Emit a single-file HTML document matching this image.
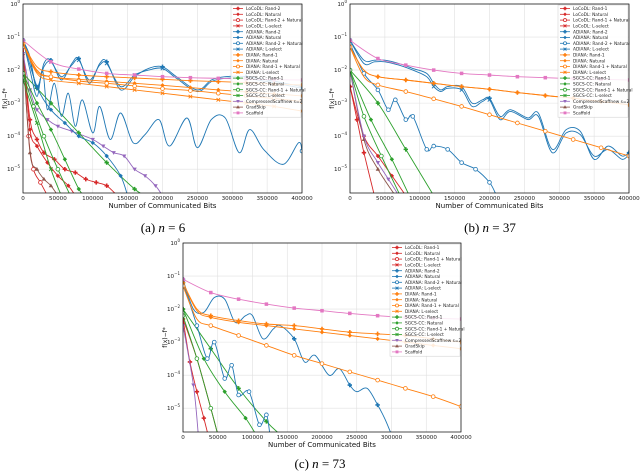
<!DOCTYPE html>
<html><head><meta charset="utf-8"><style>
html,body{margin:0;padding:0;background:#fff;}
svg{display:block;}
text{font-family:"DejaVu Sans","Liberation Sans",sans-serif;}
.cap{font-family:"Liberation Serif",serif;font-size:13px;}
</style></head><body>
<svg id="fig" width="640" height="473" viewBox="0 0 640 473"></svg>
<script>
// x in thousands of bits, y as log10(f(x)-f*)
const xTicks = [0,50000,100000,150000,200000,250000,300000,350000,400000];
const yTicks = [0,-1,-2,-3,-4,-5];
const labelsA = ["LoCoDL: Rand-2","LoCoDL: Natural","LoCoDL: Rand-2 + Natural","LoCoDL: L-select","ADIANA: Rand-2","ADIANA: Natural","ADIANA: Rand-2 + Natural","ADIANA: L-select","DIANA: Rand-1","DIANA: Natural","DIANA: Rand-1 + Natural","DIANA: L-select","SGCS-CC: Rand-1","SGCS-CC: Natural","SGCS-CC: Rand-1 + Natural","SGCS-CC: L-select","CompressedScaffnew s=2","GradSkip","Scaffold"];
const labelsB = labelsA.map((l,i)=>i<4?l.replace("Rand-2","Rand-1"):l);

// ---- panel (a) n=6
const aScaffoldX=[0,40,80,120,160,200,240,280,320,360,400];
const aScaffoldY=[-1.1,-1.75,-1.97,-2.1,-2.15,-2.2,-2.23,-2.25,-2.27,-2.29,-2.3];
const aDiana1X=[0,20,40,80,120,160,200,240,280,320,360,400];
const aDiana1Y=[-1.2,-1.9,-2.05,-2.15,-2.2,-2.24,-2.28,-2.32,-2.35,-2.38,-2.42,-2.45];
const aDiana2Y=[-1.2,-2.0,-2.2,-2.28,-2.34,-2.4,-2.46,-2.53,-2.6,-2.66,-2.72,-2.78];
const aDiana3Y=[-1.2,-2.05,-2.2,-2.33,-2.4,-2.48,-2.56,-2.62,-2.7,-2.78,-2.86,-2.95];
const aDiana4Y=[-1.2,-2.1,-2.3,-2.4,-2.5,-2.6,-2.7,-2.8,-2.9,-3.0,-3.1,-3.24];
const aAdiana1X=[0,10,20,30,40,55,70,80,95,110,120,140,160,180,200,220,250,270,290,320,350,400];
const aAdiana1Y=[-1.1,-1.6,-2.6,-1.8,-1.7,-2.3,-1.8,-1.65,-2.4,-1.8,-1.75,-2.6,-2.2,-1.95,-1.9,-2.2,-2.6,-2.3,-2.2,-2.2,-2.3,-2.5];
const aAdiana2Y=[-1.1,-1.7,-2.5,-1.9,-1.75,-2.2,-1.85,-1.7,-2.3,-1.85,-1.8,-2.5,-2.15,-2.0,-1.95,-2.25,-2.65,-2.35,-2.25,-2.25,-2.35,-2.55];
const aAdiana3X=[0,10,20,28,35,45,55,65,75,85,100,110,125,140,158,175,195,210,235,250,270,290,310,325,345,373,395,400];
const aAdiana3Y=[-1.1,-2.0,-2.8,-2.0,-3.2,-2.4,-3.4,-2.7,-3.7,-2.9,-3.9,-3.1,-4.1,-3.3,-4.2,-3.95,-3.5,-4.3,-3.45,-4.35,-3.5,-3.45,-4.5,-3.8,-4.4,-4.85,-4.2,-4.45];
const aAdiana4X=[0,20,40,60,80,100,120,140,150];
const aAdiana4Y=[-1.1,-2.5,-3.2,-3.6,-4.0,-4.2,-4.6,-5.2,-5.8];
const aSg1X=[0,20,40,80,120,160,175];const aSg1Y=[-2.1,-2.55,-3.0,-3.9,-4.8,-5.6,-5.8];
const aSg2X=[0,20,40,60,80,88];const aSg2Y=[-2.1,-3.0,-3.8,-4.7,-5.6,-5.8];
const aSg3X=[0,15,30,50,68];const aSg3Y=[-2.1,-3.1,-4.0,-5.0,-5.8];
const aSg4X=[0,20,40,55];const aSg4Y=[-2.3,-3.6,-5.0,-5.8];
const aCsX=[0,10,20,35,50,70,100,115,130,145,160,175,190,200];
const aCsY=[-1.5,-2.6,-3.2,-3.5,-3.7,-3.85,-4.1,-4.3,-4.5,-4.6,-5.0,-5.2,-5.5,-5.8];
const aGsX=[0,10,20,30,40,50];const aGsY=[-1.5,-4.5,-5.0,-5.3,-5.5,-5.8];
const aLc1X=[0,10,20,30,45,60,75,90,105,120,135];const aLc1Y=[-1.3,-3.5,-4.1,-4.5,-4.7,-5.0,-5.1,-5.3,-5.4,-5.5,-5.8];
const aLc2X=[0,10,20,35,50,65,75];const aLc2Y=[-1.3,-3.8,-4.3,-4.8,-5.2,-5.5,-5.8];
const aLc3X=[0,8,15,25,35];const aLc3Y=[-1.3,-4.0,-5.0,-5.4,-5.8];

// ---- panel (b) n=37
const bScaffoldX=[0,40,80,120,160,200,240,280,320,360,400];
const bScaffoldY=[-1.1,-1.65,-1.85,-2.0,-2.1,-2.15,-2.2,-2.23,-2.26,-2.28,-2.3];
const bDianaX=[0,20,40,80,120,160,200,240,280,320,360,400];
const bDiana1Y=[-1.3,-2.0,-2.2,-2.3,-2.4,-2.5,-2.58,-2.68,-2.77,-2.85,-2.95,-3.05];
const bDiana3Y=[-1.3,-2.2,-2.45,-2.65,-2.87,-3.1,-3.35,-3.6,-3.85,-4.1,-4.35,-4.6];
const bAdiana1X=[0,20,35,50,70,90,110,120,130,140,160,175,190,200,215,230,255,270,290,310,330,350,370,390,400];
const bAdiana1Y=[-1.1,-1.7,-1.7,-1.7,-1.8,-1.95,-2.1,-2.4,-2.6,-2.5,-2.5,-3.0,-2.9,-2.85,-3.4,-3.2,-3.45,-3.3,-4.4,-3.8,-3.85,-4.7,-4.3,-4.6,-4.5];
const bAdiana2Y=[-1.1,-1.8,-1.75,-1.75,-1.85,-2.0,-2.2,-2.5,-2.65,-2.55,-2.6,-3.1,-2.95,-2.9,-3.5,-3.25,-3.5,-3.4,-4.5,-3.9,-3.95,-4.6,-4.4,-4.7,-4.55];
const bAdiana3X=[0,20,40,55,65,80,90,110,120,140,160,180,200,210];
const bAdiana3Y=[-1.2,-2.1,-2.6,-3.2,-2.9,-3.5,-3.4,-4.4,-4.3,-4.4,-4.8,-5.0,-5.4,-5.8];
const bSg1X=[0,40,80,120];const bSg1Y=[-2.0,-3.0,-4.4,-5.8];
const bSg2X=[0,30,60,85];const bSg2Y=[-2.0,-3.5,-4.7,-5.8];
const bSg3X=[0,20,45,72];const bSg3Y=[-2.0,-3.4,-4.6,-5.8];
const bCsX=[0,20,40,55,70];const bCsY=[-2.0,-4.0,-4.8,-5.3,-5.8];
const bGsX=[0,20,40,65];const bGsY=[-2.0,-4.1,-5.0,-5.8];
const bLc1X=[0,10,20,35];const bLc1Y=[-2.5,-3.5,-4.5,-5.8];
const bLc2X=[0,20,40,60,80];const bLc2Y=[-2.5,-4.0,-4.6,-5.2,-5.8];

// ---- panel (c) n=73
const cScaffoldX=[0,40,80,120,160,200,240,280,320,360,400];
const cScaffoldY=[-1.1,-1.5,-1.7,-1.85,-1.97,-2.05,-2.13,-2.2,-2.25,-2.28,-2.3];
const cDianaX=[0,20,40,80,120,160,200,240,280,320,360,400];
const cDiana1Y=[-1.2,-2.0,-2.2,-2.35,-2.45,-2.5,-2.6,-2.7,-2.75,-2.8,-2.9,-3.0];
const cDiana2Y=[-1.2,-2.05,-2.25,-2.4,-2.5,-2.6,-2.7,-2.8,-2.9,-3.0,-3.1,-3.2];
const cDiana3Y=[-1.3,-2.3,-2.5,-2.8,-3.1,-3.4,-3.65,-3.9,-4.15,-4.4,-4.65,-4.95];
const cAdiana1X=[0,15,30,45,60,75,90,100,115,130,140,160,175,190,210,225,240,250,265,280,290,300];
const cAdiana1Y=[-1.1,-2.0,-2.1,-1.65,-1.7,-2.4,-2.2,-2.2,-2.9,-2.6,-2.5,-2.9,-3.6,-3.4,-4.0,-3.8,-4.3,-4.5,-4.4,-4.9,-5.3,-5.8];
const cAdiana2X=[0,20,35,45,60,70,80,95,110,120,125];
const cAdiana2Y=[-1.2,-2.5,-3.5,-3.0,-4.1,-3.7,-4.6,-4.5,-5.5,-5.2,-5.8];
const cSg1X=[0,40,80,120,140];const cSg1Y=[-2.0,-3.2,-4.4,-5.4,-5.8];
const cSg2X=[0,30,60,90,105];const cSg2Y=[-2.0,-3.5,-4.5,-5.3,-5.8];
const cSg3X=[0,20,40,50];const cSg3Y=[-2.2,-3.5,-5.0,-5.8];
const cLc1X=[0,10,20,30,36];const cLc1Y=[-2.3,-3.6,-4.5,-5.3,-5.8];
const cLc2X=[0,20,40,50];const cLc2Y=[-2.3,-3.5,-5.0,-5.8];
const cCsX=[0,15,22];const cCsY=[-2.5,-4.3,-5.8];

const RED="#d62728",BLUE="#1f77b4",ORANGE="#ff7f0e",GREEN="#2ca02c",PURPLE="#9467bd",BROWN="#8c564b",PINK="#e377c2";
const legendMarkers=[[RED,"P"],[RED,"D"],[RED,"o"],[RED,"x"],[BLUE,"P"],[BLUE,"D"],[BLUE,"o"],[BLUE,"x"],[ORANGE,"P"],[ORANGE,"D"],[ORANGE,"o"],[ORANGE,"x"],[GREEN,"P"],[GREEN,"D"],[GREEN,"o"],[GREEN,"x"],[PURPLE,"v"],[BROWN,"^"],[PINK,"s"]];

const panels=[
 {id:"a",L:23,R:302,T:4,B:193,cap:"(a) ",n:"6",cx:163,cy:232,labels:labelsA,series:[
  [RED,"P",aLc1X,aLc1Y],[RED,"D",aLc2X,aLc2Y],[RED,"o",aLc3X,aLc3Y],[BROWN,"^",aGsX,aGsY],
  [PURPLE,"v",aCsX,aCsY],[GREEN,"P",aSg1X,aSg1Y],[GREEN,"D",aSg2X,aSg2Y],[GREEN,"o",aSg3X,aSg3Y],[GREEN,"x",aSg4X,aSg4Y],
  [BLUE,"D",aAdiana4X,aAdiana4Y],[BLUE,"o",aAdiana3X,aAdiana3Y],[BLUE,"P",aAdiana1X,aAdiana1Y],[BLUE,"x",aAdiana1X,aAdiana2Y],
  [ORANGE,"P",aDiana1X,aDiana1Y],[ORANGE,"D",aDiana1X,aDiana2Y],[ORANGE,"o",aDiana1X,aDiana3Y],[ORANGE,"x",aDiana1X,aDiana4Y],
  [PINK,"s",aScaffoldX,aScaffoldY]]},
 {id:"b",L:350,R:629,T:4,B:193,cap:"(b) ",n:"37",cx:490,cy:232,labels:labelsB,series:[
  [RED,"P",bLc1X,bLc1Y],[RED,"D",bLc2X,bLc2Y],[BROWN,"^",bGsX,bGsY],[PURPLE,"v",bCsX,bCsY],
  [GREEN,"P",bSg1X,bSg1Y],[GREEN,"D",bSg2X,bSg2Y],[GREEN,"o",bSg3X,bSg3Y],
  [BLUE,"o",bAdiana3X,bAdiana3Y],[BLUE,"P",bAdiana1X,bAdiana1Y],[BLUE,"x",bAdiana1X,bAdiana2Y],
  [ORANGE,"P",bDianaX,bDiana1Y],[ORANGE,"D",bDianaX,bDiana1Y],[ORANGE,"o",bDianaX,bDiana3Y],
  [PINK,"s",bScaffoldX,bScaffoldY]]},
 {id:"c",L:183,R:461,T:243,B:432,cap:"(c) ",n:"73",cx:320,cy:468,labels:labelsB,series:[
  [RED,"P",cLc1X,cLc1Y],[RED,"D",cLc2X,cLc2Y],[PURPLE,"v",cCsX,cCsY],
  [GREEN,"P",cSg1X,cSg1Y],[GREEN,"D",cSg2X,cSg2Y],[GREEN,"o",cSg3X,cSg3Y],
  [BLUE,"o",cAdiana2X,cAdiana2Y],[BLUE,"P",cAdiana1X,cAdiana1Y],
  [ORANGE,"P",cDianaX,cDiana1Y],[ORANGE,"D",cDianaX,cDiana2Y],[ORANGE,"o",cDianaX,cDiana3Y],
  [PINK,"s",cScaffoldX,cScaffoldY]]}
];

const NS="http://www.w3.org/2000/svg";
const svg=document.getElementById("fig");
function el(tag,attrs,parent){const e=document.createElementNS(NS,tag);for(const k in attrs)e.setAttribute(k,attrs[k]);(parent||svg).appendChild(e);return e;}
function marker(g,type,x,y,c,s){
  let e;
  if(type==="P"){e=el("path",{d:`M${x-s},${y}H${x+s}M${x},${y-s}V${y+s}`,stroke:c,"stroke-width":1.6},g);}
  else if(type==="D"){e=el("path",{d:`M${x},${y-s}L${x+s},${y}L${x},${y+s}L${x-s},${y}Z`,fill:c},g);}
  else if(type==="o"){e=el("circle",{cx:x,cy:y,r:s*0.85,fill:"#fff",stroke:c,"stroke-width":0.8},g);}
  else if(type==="x"){e=el("path",{d:`M${x-s*.8},${y-s*.8}L${x+s*.8},${y+s*.8}M${x-s*.8},${y+s*.8}L${x+s*.8},${y-s*.8}`,stroke:c,"stroke-width":0.9},g);}
  else if(type==="s"){e=el("rect",{x:x-s*.8,y:y-s*.8,width:s*1.6,height:s*1.6,fill:c},g);}
  else if(type==="v"){e=el("path",{d:`M${x-s},${y-s*.7}L${x+s},${y-s*.7}L${x},${y+s}Z`,fill:c},g);}
  else {e=el("path",{d:`M${x-s},${y+s*.7}L${x+s},${y+s*.7}L${x},${y-s}Z`,fill:c},g);}
  
  
}
function smoothPath(P){
  let d=`M${P[0][0].toFixed(1)},${P[0][1].toFixed(1)}`;
  for(let i=0;i<P.length-1;i++){
    const p0=P[Math.max(0,i-1)],p1=P[i],p2=P[i+1],p3=P[Math.min(P.length-1,i+2)];
    const c1x=p1[0]+(p2[0]-p0[0])/6,c1y=p1[1]+(p2[1]-p0[1])/6;
    const c2x=p2[0]-(p3[0]-p1[0])/6,c2y=p2[1]-(p3[1]-p1[1])/6;
    d+=`C${c1x.toFixed(1)},${c1y.toFixed(1)} ${c2x.toFixed(1)},${c2y.toFixed(1)} ${p2[0].toFixed(1)},${p2[1].toFixed(1)}`;
  }
  return d;
}
panels.forEach(p=>{
  const g=el("g",{});
  
  
  const ymin=-5.72;
  const sx=v=>p.L+(v/400)*(p.R-p.L);
  const sy=v=>p.T+(0-v)/(0-ymin)*(p.B-p.T);
  xTicks.forEach(t=>{const x=sx(t/1000);el("line",{x1:x,x2:x,y1:p.T,y2:p.B,stroke:"#e0e0e0","stroke-width":0.6},g);
    const tx=el("text",{x:x,y:p.B+7,"font-size":5.6,"text-anchor":"middle",fill:"#222"},g);tx.textContent=t;
    });
  yTicks.forEach(t=>{const y=sy(t);el("line",{x1:p.L,x2:p.R,y1:y,y2:y,stroke:"#e0e0e0","stroke-width":0.6},g);
    const tx=el("text",{x:p.L-3,y:y+2,"font-size":5.6,"text-anchor":"end",fill:"#222"},g);
    tx.textContent="10";const ts=el("tspan",{dy:-3,"font-size":4},tx);ts.textContent=t===0?"0":"−"+(-t);
    });
  const cp=el("clipPath",{id:"clip"+p.id},g);el("rect",{x:p.L,y:p.T,width:p.R-p.L,height:p.B-p.T},cp);
  const sg=el("g",{"clip-path":`url(#clip${p.id})`},g);
  p.series.forEach(([c,m,xs,ys])=>{
    const P=xs.map((x,i)=>[sx(x),sy(ys[i])]);
    const pl=el("path",{d:smoothPath(P),fill:"none",stroke:c,"stroke-width":0.9,"stroke-linejoin":"round"},sg);
    
    
    const maxX=xs[xs.length-1];
    xs.forEach((x,i)=>{ if(maxX<=210 || x%40===0) marker(sg,m,P[i][0],P[i][1],c,2.2); });
  });
  el("rect",{x:p.L,y:p.T,width:p.R-p.L,height:p.B-p.T,fill:"none",stroke:"#000","stroke-width":0.7},g);
  const xl=el("text",{x:(p.L+p.R)/2,y:p.B+15,"font-size":7,"text-anchor":"middle",fill:"#111"},g);xl.textContent="Number of Communicated Bits";
  
  const yl=el("text",{x:0,y:0,"font-size":6,"text-anchor":"middle",fill:"#111",transform:`translate(${p.L-16},${(p.T+p.B)/2}) rotate(-90)`},g);yl.textContent="f(x)−f*";
  
  const lg=el("g",{},g);
  
  
  const lw=70,lx=p.R-lw-1,ly=p.T+1,rh=5.8;
  el("rect",{x:lx,y:ly,width:lw,height:rh*19+2,fill:"#fff","fill-opacity":0.85,stroke:"#ccc","stroke-width":0.5},lg);
  p.labels.forEach((lab,i)=>{
    const y=ly+3.5+i*rh;const [c,m]=legendMarkers[i];
    el("line",{x1:lx+2,x2:lx+12,y1:y,y2:y,stroke:c,"stroke-width":0.8},lg);
    marker(lg,m,lx+7,y,c,1.8);
    const t=el("text",{x:lx+15,y:y+1.6,"font-size":4.3,fill:"#222"},lg);t.textContent=lab;
    
  });
  const cap=el("text",{x:p.cx,y:p.cy,"text-anchor":"middle",class:"cap"},g);
  cap.textContent=p.cap;const it=el("tspan",{"font-style":"italic"},cap);it.textContent="n";
  const rest=el("tspan",{},cap);rest.textContent=" = "+p.n;
  
});
</script>
</body></html>
